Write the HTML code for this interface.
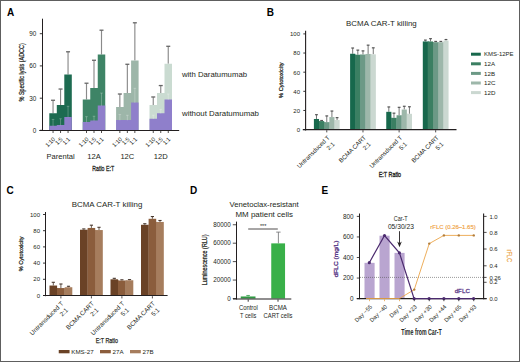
<!DOCTYPE html>
<html><head><meta charset="utf-8"><style>
html,body{margin:0;padding:0;background:#fff;}
body{width:520px;height:362px;overflow:hidden;}
svg{display:block;font-family:"Liberation Sans", sans-serif;}
</style></head><body>
<svg width="520" height="362" viewBox="0 0 520 362">
<rect x="0" y="0" width="520" height="362" fill="#fff"/>
<text x="6.90" y="15.70" font-size="10" fill="#000" text-anchor="start" font-weight="bold" >A</text>
<line x1="53.05" y1="100.26" x2="53.05" y2="113.28" stroke="#8a8a8a" stroke-width="1.15" />
<line x1="51.05" y1="100.26" x2="55.05" y2="100.26" stroke="#666" stroke-width="1.3" />
<line x1="60.55" y1="89.04" x2="60.55" y2="105.02" stroke="#8a8a8a" stroke-width="1.15" />
<line x1="58.55" y1="89.04" x2="62.55" y2="89.04" stroke="#666" stroke-width="1.3" />
<line x1="68.05" y1="51.79" x2="68.05" y2="74.55" stroke="#8a8a8a" stroke-width="1.15" />
<line x1="66.05" y1="51.79" x2="70.05" y2="51.79" stroke="#666" stroke-width="1.3" />
<path d="M49.30,130.00 L49.30,113.28 L56.80,113.28 L56.80,105.02 L64.30,105.02 L64.30,74.55 L71.80,74.55 L71.80,130.00 Z" fill="#1d6b51"/>
<path d="M49.30,130.00 L49.30,125.77 L56.80,125.77 L56.80,125.03 L64.30,125.03 L64.30,116.98 L71.80,116.98 L71.80,130.00 Z" fill="#8f7fcb"/>
<line x1="53.05" y1="119.42" x2="53.05" y2="126.07" stroke="rgba(255,255,255,0.28)" stroke-width="0.9" />
<line x1="51.75" y1="119.42" x2="54.35" y2="119.42" stroke="rgba(255,255,255,0.28)" stroke-width="0.9" />
<line x1="60.55" y1="118.78" x2="60.55" y2="125.33" stroke="rgba(255,255,255,0.28)" stroke-width="0.9" />
<line x1="59.25" y1="118.78" x2="61.85" y2="118.78" stroke="rgba(255,255,255,0.28)" stroke-width="0.9" />
<line x1="68.05" y1="106.29" x2="68.05" y2="117.28" stroke="rgba(255,255,255,0.28)" stroke-width="0.9" />
<line x1="66.75" y1="106.29" x2="69.35" y2="106.29" stroke="rgba(255,255,255,0.28)" stroke-width="0.9" />
<line x1="53.05" y1="131.00" x2="53.05" y2="133.00" stroke="#231f20" stroke-width="0.8" />
<text transform="translate(55.65,139.60) rotate(-45)" x="0" y="0" font-size="5.8" fill="#231f20" text-anchor="end" >1:10</text>
<line x1="60.55" y1="131.00" x2="60.55" y2="133.00" stroke="#231f20" stroke-width="0.8" />
<text transform="translate(63.15,139.60) rotate(-45)" x="0" y="0" font-size="5.8" fill="#231f20" text-anchor="end" >1:5</text>
<line x1="68.05" y1="131.00" x2="68.05" y2="133.00" stroke="#231f20" stroke-width="0.8" />
<text transform="translate(70.65,139.60) rotate(-45)" x="0" y="0" font-size="5.8" fill="#231f20" text-anchor="end" >1:1</text>
<text x="60.55" y="158.80" font-size="7.9" fill="#231f20" text-anchor="middle" textLength="28.3" lengthAdjust="spacingAndGlyphs" >Parental</text>
<line x1="86.50" y1="83.22" x2="86.50" y2="99.52" stroke="#8a8a8a" stroke-width="1.15" />
<line x1="84.50" y1="83.22" x2="88.50" y2="83.22" stroke="#666" stroke-width="1.3" />
<line x1="94.00" y1="60.26" x2="94.00" y2="87.99" stroke="#8a8a8a" stroke-width="1.15" />
<line x1="92.00" y1="60.26" x2="96.00" y2="60.26" stroke="#666" stroke-width="1.3" />
<line x1="101.50" y1="30.20" x2="101.50" y2="54.54" stroke="#8a8a8a" stroke-width="1.15" />
<line x1="99.50" y1="30.20" x2="103.50" y2="30.20" stroke="#666" stroke-width="1.3" />
<path d="M82.75,130.00 L82.75,99.52 L90.25,99.52 L90.25,87.99 L97.75,87.99 L97.75,54.54 L105.25,54.54 L105.25,130.00 Z" fill="#3e8466"/>
<path d="M82.75,130.00 L82.75,121.96 L90.25,121.96 L90.25,120.48 L97.75,120.48 L97.75,105.45 L105.25,105.45 L105.25,130.00 Z" fill="#8f7fcb"/>
<line x1="86.50" y1="116.67" x2="86.50" y2="122.26" stroke="rgba(255,255,255,0.28)" stroke-width="0.9" />
<line x1="85.20" y1="116.67" x2="87.80" y2="116.67" stroke="rgba(255,255,255,0.28)" stroke-width="0.9" />
<line x1="94.00" y1="116.24" x2="94.00" y2="120.78" stroke="rgba(255,255,255,0.28)" stroke-width="0.9" />
<line x1="92.70" y1="116.24" x2="95.30" y2="116.24" stroke="rgba(255,255,255,0.28)" stroke-width="0.9" />
<line x1="101.50" y1="93.07" x2="101.50" y2="105.75" stroke="rgba(255,255,255,0.28)" stroke-width="0.9" />
<line x1="100.20" y1="93.07" x2="102.80" y2="93.07" stroke="rgba(255,255,255,0.28)" stroke-width="0.9" />
<line x1="86.50" y1="131.00" x2="86.50" y2="133.00" stroke="#231f20" stroke-width="0.8" />
<text transform="translate(89.10,139.60) rotate(-45)" x="0" y="0" font-size="5.8" fill="#231f20" text-anchor="end" >1:10</text>
<line x1="94.00" y1="131.00" x2="94.00" y2="133.00" stroke="#231f20" stroke-width="0.8" />
<text transform="translate(96.60,139.60) rotate(-45)" x="0" y="0" font-size="5.8" fill="#231f20" text-anchor="end" >1:5</text>
<line x1="101.50" y1="131.00" x2="101.50" y2="133.00" stroke="#231f20" stroke-width="0.8" />
<text transform="translate(104.10,139.60) rotate(-45)" x="0" y="0" font-size="5.8" fill="#231f20" text-anchor="end" >1:1</text>
<text x="94.00" y="158.80" font-size="7.9" fill="#231f20" text-anchor="middle" textLength="13.5" lengthAdjust="spacingAndGlyphs" >12A</text>
<line x1="119.85" y1="94.02" x2="119.85" y2="107.03" stroke="#8a8a8a" stroke-width="1.15" />
<line x1="117.85" y1="94.02" x2="121.85" y2="94.02" stroke="#666" stroke-width="1.3" />
<line x1="127.35" y1="64.28" x2="127.35" y2="92.96" stroke="#8a8a8a" stroke-width="1.15" />
<line x1="125.35" y1="64.28" x2="129.35" y2="64.28" stroke="#666" stroke-width="1.3" />
<line x1="134.85" y1="22.79" x2="134.85" y2="60.47" stroke="#8a8a8a" stroke-width="1.15" />
<line x1="132.85" y1="22.79" x2="136.85" y2="22.79" stroke="#666" stroke-width="1.3" />
<path d="M116.10,130.00 L116.10,107.03 L123.60,107.03 L123.60,92.96 L131.10,92.96 L131.10,60.47 L138.60,60.47 L138.60,130.00 Z" fill="#9db6a9"/>
<path d="M116.10,130.00 L116.10,120.05 L123.60,120.05 L123.60,120.05 L131.10,120.05 L131.10,102.48 L138.60,102.48 L138.60,130.00 Z" fill="#8f7fcb"/>
<line x1="119.85" y1="114.55" x2="119.85" y2="120.35" stroke="rgba(255,255,255,0.28)" stroke-width="0.9" />
<line x1="118.55" y1="114.55" x2="121.15" y2="114.55" stroke="rgba(255,255,255,0.28)" stroke-width="0.9" />
<line x1="127.35" y1="115.29" x2="127.35" y2="120.35" stroke="rgba(255,255,255,0.28)" stroke-width="0.9" />
<line x1="126.05" y1="115.29" x2="128.65" y2="115.29" stroke="rgba(255,255,255,0.28)" stroke-width="0.9" />
<line x1="134.85" y1="88.30" x2="134.85" y2="102.78" stroke="rgba(255,255,255,0.28)" stroke-width="0.9" />
<line x1="133.55" y1="88.30" x2="136.15" y2="88.30" stroke="rgba(255,255,255,0.28)" stroke-width="0.9" />
<line x1="119.85" y1="131.00" x2="119.85" y2="133.00" stroke="#231f20" stroke-width="0.8" />
<text transform="translate(122.45,139.60) rotate(-45)" x="0" y="0" font-size="5.8" fill="#231f20" text-anchor="end" >1:10</text>
<line x1="127.35" y1="131.00" x2="127.35" y2="133.00" stroke="#231f20" stroke-width="0.8" />
<text transform="translate(129.95,139.60) rotate(-45)" x="0" y="0" font-size="5.8" fill="#231f20" text-anchor="end" >1:5</text>
<line x1="134.85" y1="131.00" x2="134.85" y2="133.00" stroke="#231f20" stroke-width="0.8" />
<text transform="translate(137.45,139.60) rotate(-45)" x="0" y="0" font-size="5.8" fill="#231f20" text-anchor="end" >1:1</text>
<text x="127.35" y="158.80" font-size="7.9" fill="#231f20" text-anchor="middle" textLength="13.9" lengthAdjust="spacingAndGlyphs" >12C</text>
<line x1="153.25" y1="96.98" x2="153.25" y2="105.02" stroke="#8a8a8a" stroke-width="1.15" />
<line x1="151.25" y1="96.98" x2="155.25" y2="96.98" stroke="#666" stroke-width="1.3" />
<line x1="160.75" y1="85.55" x2="160.75" y2="92.96" stroke="#8a8a8a" stroke-width="1.15" />
<line x1="158.75" y1="85.55" x2="162.75" y2="85.55" stroke="#666" stroke-width="1.3" />
<line x1="168.25" y1="46.29" x2="168.25" y2="63.75" stroke="#8a8a8a" stroke-width="1.15" />
<line x1="166.25" y1="46.29" x2="170.25" y2="46.29" stroke="#666" stroke-width="1.3" />
<path d="M149.50,130.00 L149.50,105.02 L157.00,105.02 L157.00,92.96 L164.50,92.96 L164.50,63.75 L172.00,63.75 L172.00,130.00 Z" fill="#cadbd1"/>
<path d="M149.50,130.00 L149.50,118.78 L157.00,118.78 L157.00,113.28 L164.50,113.28 L164.50,99.52 L172.00,99.52 L172.00,130.00 Z" fill="#8f7fcb"/>
<line x1="153.25" y1="115.18" x2="153.25" y2="119.08" stroke="rgba(255,255,255,0.28)" stroke-width="0.9" />
<line x1="151.95" y1="115.18" x2="154.55" y2="115.18" stroke="rgba(255,255,255,0.28)" stroke-width="0.9" />
<line x1="160.75" y1="109.36" x2="160.75" y2="113.58" stroke="rgba(255,255,255,0.28)" stroke-width="0.9" />
<line x1="159.45" y1="109.36" x2="162.05" y2="109.36" stroke="rgba(255,255,255,0.28)" stroke-width="0.9" />
<line x1="168.25" y1="94.02" x2="168.25" y2="99.82" stroke="rgba(255,255,255,0.28)" stroke-width="0.9" />
<line x1="166.95" y1="94.02" x2="169.55" y2="94.02" stroke="rgba(255,255,255,0.28)" stroke-width="0.9" />
<line x1="153.25" y1="131.00" x2="153.25" y2="133.00" stroke="#231f20" stroke-width="0.8" />
<text transform="translate(155.85,139.60) rotate(-45)" x="0" y="0" font-size="5.8" fill="#231f20" text-anchor="end" >1:10</text>
<line x1="160.75" y1="131.00" x2="160.75" y2="133.00" stroke="#231f20" stroke-width="0.8" />
<text transform="translate(163.35,139.60) rotate(-45)" x="0" y="0" font-size="5.8" fill="#231f20" text-anchor="end" >1:5</text>
<line x1="168.25" y1="131.00" x2="168.25" y2="133.00" stroke="#231f20" stroke-width="0.8" />
<text transform="translate(170.85,139.60) rotate(-45)" x="0" y="0" font-size="5.8" fill="#231f20" text-anchor="end" >1:1</text>
<text x="160.75" y="158.80" font-size="7.9" fill="#231f20" text-anchor="middle" textLength="13.9" lengthAdjust="spacingAndGlyphs" >12D</text>
<line x1="42.50" y1="18.70" x2="42.50" y2="131.00" stroke="#231f20" stroke-width="1" />
<line x1="39.30" y1="130.50" x2="179.20" y2="130.50" stroke="#231f20" stroke-width="1" />
<line x1="39.80" y1="130.30" x2="42.50" y2="130.30" stroke="#231f20" stroke-width="0.9" />
<text x="36.40" y="132.60" font-size="6.4" fill="#231f20" text-anchor="end" >0</text>
<line x1="39.80" y1="98.20" x2="42.50" y2="98.20" stroke="#231f20" stroke-width="0.9" />
<text x="36.40" y="100.50" font-size="6.4" fill="#231f20" text-anchor="end" >30</text>
<line x1="39.80" y1="65.90" x2="42.50" y2="65.90" stroke="#231f20" stroke-width="0.9" />
<text x="36.40" y="68.20" font-size="6.4" fill="#231f20" text-anchor="end" >60</text>
<line x1="39.80" y1="33.70" x2="42.50" y2="33.70" stroke="#231f20" stroke-width="0.9" />
<text x="36.40" y="36.00" font-size="6.4" fill="#231f20" text-anchor="end" >90</text>
<text transform="translate(24.30,72.30) rotate(-90)" x="0" y="0" font-size="7.0" fill="#231f20" text-anchor="middle" textLength="58.2" lengthAdjust="spacingAndGlyphs" stroke="#231f20" stroke-width="0.25">% Specific lysis (ADCC)</text>
<text x="103.20" y="170.80" font-size="8.1" fill="#231f20" text-anchor="middle" textLength="21.8" lengthAdjust="spacingAndGlyphs" stroke="#231f20" stroke-width="0.3">Ratio E:T</text>
<text x="182.00" y="77.40" font-size="8.0" fill="#231f20" text-anchor="start" textLength="65" lengthAdjust="spacingAndGlyphs" >with Daratumumab</text>
<text x="182.00" y="115.50" font-size="8.0" fill="#231f20" text-anchor="start" textLength="77" lengthAdjust="spacingAndGlyphs" >without Daratumumab</text>
<text x="266.70" y="15.70" font-size="10" fill="#000" text-anchor="start" font-weight="bold" >B</text>
<text x="381.40" y="25.90" font-size="7.2" fill="#231f20" text-anchor="middle" textLength="70.6" lengthAdjust="spacingAndGlyphs" >BCMA CAR-T killing</text>
<line x1="316.47" y1="114.68" x2="316.47" y2="118.98" stroke="#777" stroke-width="1.0" />
<line x1="315.07" y1="114.68" x2="317.87" y2="114.68" stroke="#555" stroke-width="1.2" />
<line x1="321.62" y1="120.51" x2="321.62" y2="121.08" stroke="#777" stroke-width="1.0" />
<line x1="320.22" y1="120.51" x2="323.02" y2="120.51" stroke="#555" stroke-width="1.2" />
<line x1="326.77" y1="115.93" x2="326.77" y2="122.13" stroke="#777" stroke-width="1.0" />
<line x1="325.38" y1="115.93" x2="328.17" y2="115.93" stroke="#555" stroke-width="1.2" />
<line x1="331.92" y1="111.05" x2="331.92" y2="117.07" stroke="#777" stroke-width="1.0" />
<line x1="330.52" y1="111.05" x2="333.32" y2="111.05" stroke="#555" stroke-width="1.2" />
<line x1="337.07" y1="117.64" x2="337.07" y2="120.03" stroke="#777" stroke-width="1.0" />
<line x1="335.68" y1="117.64" x2="338.47" y2="117.64" stroke="#555" stroke-width="1.2" />
<rect x="313.90" y="118.98" width="5.15" height="10.22" fill="#17684c" />
<rect x="319.04" y="121.08" width="0.80" height="8.12" fill="#17684c" />
<rect x="319.05" y="121.08" width="5.15" height="8.12" fill="#3b7f62" />
<rect x="324.19" y="122.13" width="0.80" height="7.07" fill="#3b7f62" />
<rect x="324.20" y="122.13" width="5.15" height="7.07" fill="#6c9986" />
<rect x="329.34" y="122.13" width="0.80" height="7.07" fill="#6c9986" />
<rect x="329.35" y="117.07" width="5.15" height="12.13" fill="#9db7aa" />
<rect x="334.49" y="120.03" width="0.80" height="9.17" fill="#9db7aa" />
<rect x="334.50" y="120.03" width="5.15" height="9.17" fill="#cbd8d1" />
<line x1="352.68" y1="48.02" x2="352.68" y2="53.75" stroke="#777" stroke-width="1.0" />
<line x1="351.28" y1="48.02" x2="354.07" y2="48.02" stroke="#555" stroke-width="1.2" />
<line x1="357.82" y1="50.13" x2="357.82" y2="54.71" stroke="#777" stroke-width="1.0" />
<line x1="356.43" y1="50.13" x2="359.22" y2="50.13" stroke="#555" stroke-width="1.2" />
<line x1="362.98" y1="50.89" x2="362.98" y2="54.52" stroke="#777" stroke-width="1.0" />
<line x1="361.58" y1="50.89" x2="364.38" y2="50.89" stroke="#555" stroke-width="1.2" />
<line x1="368.12" y1="45.16" x2="368.12" y2="53.95" stroke="#777" stroke-width="1.0" />
<line x1="366.73" y1="45.16" x2="369.52" y2="45.16" stroke="#555" stroke-width="1.2" />
<line x1="373.28" y1="47.83" x2="373.28" y2="54.33" stroke="#777" stroke-width="1.0" />
<line x1="371.88" y1="47.83" x2="374.68" y2="47.83" stroke="#555" stroke-width="1.2" />
<rect x="350.10" y="53.75" width="5.15" height="75.44" fill="#17684c" />
<rect x="355.24" y="54.71" width="0.80" height="74.49" fill="#17684c" />
<rect x="355.25" y="54.71" width="5.15" height="74.49" fill="#3b7f62" />
<rect x="360.39" y="54.71" width="0.80" height="74.49" fill="#3b7f62" />
<rect x="360.40" y="54.52" width="5.15" height="74.68" fill="#6c9986" />
<rect x="365.54" y="54.52" width="0.80" height="74.68" fill="#6c9986" />
<rect x="365.55" y="53.95" width="5.15" height="75.25" fill="#9db7aa" />
<rect x="370.69" y="54.33" width="0.80" height="74.87" fill="#9db7aa" />
<rect x="370.70" y="54.33" width="5.15" height="74.87" fill="#cbd8d1" />
<line x1="388.82" y1="106.95" x2="388.82" y2="111.82" stroke="#777" stroke-width="1.0" />
<line x1="387.43" y1="106.95" x2="390.22" y2="106.95" stroke="#555" stroke-width="1.2" />
<line x1="393.97" y1="113.16" x2="393.97" y2="117.84" stroke="#777" stroke-width="1.0" />
<line x1="392.57" y1="113.16" x2="395.37" y2="113.16" stroke="#555" stroke-width="1.2" />
<line x1="399.12" y1="107.33" x2="399.12" y2="115.26" stroke="#777" stroke-width="1.0" />
<line x1="397.73" y1="107.33" x2="400.52" y2="107.33" stroke="#555" stroke-width="1.2" />
<line x1="404.27" y1="106.28" x2="404.27" y2="109.53" stroke="#777" stroke-width="1.0" />
<line x1="402.88" y1="106.28" x2="405.67" y2="106.28" stroke="#555" stroke-width="1.2" />
<line x1="409.43" y1="106.76" x2="409.43" y2="113.82" stroke="#777" stroke-width="1.0" />
<line x1="408.03" y1="106.76" x2="410.82" y2="106.76" stroke="#555" stroke-width="1.2" />
<rect x="386.25" y="111.82" width="5.15" height="17.38" fill="#17684c" />
<rect x="391.39" y="117.84" width="0.80" height="11.36" fill="#17684c" />
<rect x="391.40" y="117.84" width="5.15" height="11.36" fill="#3b7f62" />
<rect x="396.54" y="117.84" width="0.80" height="11.36" fill="#3b7f62" />
<rect x="396.55" y="115.26" width="5.15" height="13.94" fill="#6c9986" />
<rect x="401.69" y="115.26" width="0.80" height="13.94" fill="#6c9986" />
<rect x="401.70" y="109.53" width="5.15" height="19.67" fill="#9db7aa" />
<rect x="406.84" y="113.82" width="0.80" height="15.38" fill="#9db7aa" />
<rect x="406.85" y="113.82" width="5.15" height="15.38" fill="#cbd8d1" />
<line x1="425.38" y1="40.10" x2="425.38" y2="41.44" stroke="#777" stroke-width="1.0" />
<line x1="423.98" y1="40.10" x2="426.77" y2="40.10" stroke="#555" stroke-width="1.2" />
<line x1="430.52" y1="38.67" x2="430.52" y2="41.44" stroke="#777" stroke-width="1.0" />
<line x1="429.12" y1="38.67" x2="431.92" y2="38.67" stroke="#555" stroke-width="1.2" />
<line x1="435.68" y1="41.44" x2="435.68" y2="42.20" stroke="#777" stroke-width="1.0" />
<line x1="434.28" y1="41.44" x2="437.07" y2="41.44" stroke="#555" stroke-width="1.2" />
<line x1="440.82" y1="41.44" x2="440.82" y2="42.20" stroke="#777" stroke-width="1.0" />
<line x1="439.43" y1="41.44" x2="442.22" y2="41.44" stroke="#555" stroke-width="1.2" />
<line x1="445.98" y1="39.53" x2="445.98" y2="40.58" stroke="#777" stroke-width="1.0" />
<line x1="444.58" y1="39.53" x2="447.38" y2="39.53" stroke="#555" stroke-width="1.2" />
<rect x="422.80" y="41.44" width="5.15" height="87.76" fill="#17684c" />
<rect x="427.94" y="41.44" width="0.80" height="87.76" fill="#17684c" />
<rect x="427.95" y="41.44" width="5.15" height="87.76" fill="#3b7f62" />
<rect x="433.09" y="42.20" width="0.80" height="87.00" fill="#3b7f62" />
<rect x="433.10" y="42.20" width="5.15" height="87.00" fill="#6c9986" />
<rect x="438.24" y="42.20" width="0.80" height="87.00" fill="#6c9986" />
<rect x="438.25" y="42.20" width="5.15" height="87.00" fill="#9db7aa" />
<rect x="443.39" y="42.20" width="0.80" height="87.00" fill="#9db7aa" />
<rect x="443.40" y="40.58" width="5.15" height="88.62" fill="#cbd8d1" />
<line x1="305.60" y1="30.80" x2="305.60" y2="130.40" stroke="#231f20" stroke-width="1.1" />
<line x1="302.80" y1="129.70" x2="456.50" y2="129.70" stroke="#231f20" stroke-width="1.2" />
<line x1="303.30" y1="129.60" x2="305.60" y2="129.60" stroke="#231f20" stroke-width="0.9" />
<text x="300.00" y="132.00" font-size="6.0" fill="#231f20" text-anchor="end" >0</text>
<line x1="303.30" y1="110.46" x2="305.60" y2="110.46" stroke="#231f20" stroke-width="0.9" />
<text x="300.00" y="112.86" font-size="6.0" fill="#231f20" text-anchor="end" >20</text>
<line x1="303.30" y1="91.32" x2="305.60" y2="91.32" stroke="#231f20" stroke-width="0.9" />
<text x="300.00" y="93.72" font-size="6.0" fill="#231f20" text-anchor="end" >40</text>
<line x1="303.30" y1="72.18" x2="305.60" y2="72.18" stroke="#231f20" stroke-width="0.9" />
<text x="300.00" y="74.58" font-size="6.0" fill="#231f20" text-anchor="end" >60</text>
<line x1="303.30" y1="53.04" x2="305.60" y2="53.04" stroke="#231f20" stroke-width="0.9" />
<text x="300.00" y="55.44" font-size="6.0" fill="#231f20" text-anchor="end" >80</text>
<line x1="303.30" y1="33.90" x2="305.60" y2="33.90" stroke="#231f20" stroke-width="0.9" />
<text x="300.00" y="36.30" font-size="6.0" fill="#231f20" text-anchor="end" >100</text>
<text transform="translate(282.50,80.20) rotate(-90)" x="0" y="0" font-size="5.8" fill="#231f20" text-anchor="middle" textLength="35.5" lengthAdjust="spacingAndGlyphs" stroke="#231f20" stroke-width="0.25">% Cytotoxicity</text>
<line x1="326.77" y1="130.20" x2="326.77" y2="132.40" stroke="#231f20" stroke-width="0.8" />
<text transform="translate(330.17,138.00) rotate(-45)" x="0" y="0" font-size="6.1" fill="#231f20" text-anchor="end" >Untransduced T</text>
<text transform="translate(335.07,144.60) rotate(-45)" x="0" y="0" font-size="6.1" fill="#231f20" text-anchor="end" >2:1</text>
<line x1="362.98" y1="130.20" x2="362.98" y2="132.40" stroke="#231f20" stroke-width="0.8" />
<text transform="translate(366.38,138.00) rotate(-45)" x="0" y="0" font-size="6.1" fill="#231f20" text-anchor="end" >BCMA CART</text>
<text transform="translate(371.27,144.60) rotate(-45)" x="0" y="0" font-size="6.1" fill="#231f20" text-anchor="end" >2:1</text>
<line x1="399.12" y1="130.20" x2="399.12" y2="132.40" stroke="#231f20" stroke-width="0.8" />
<text transform="translate(402.52,138.00) rotate(-45)" x="0" y="0" font-size="6.1" fill="#231f20" text-anchor="end" >Untransduced T</text>
<text transform="translate(407.42,144.60) rotate(-45)" x="0" y="0" font-size="6.1" fill="#231f20" text-anchor="end" >5:1</text>
<line x1="435.68" y1="130.20" x2="435.68" y2="132.40" stroke="#231f20" stroke-width="0.8" />
<text transform="translate(439.07,138.00) rotate(-45)" x="0" y="0" font-size="6.1" fill="#231f20" text-anchor="end" >BCMA CART</text>
<text transform="translate(443.97,144.60) rotate(-45)" x="0" y="0" font-size="6.1" fill="#231f20" text-anchor="end" >5:1</text>
<text x="389.90" y="177.30" font-size="7.9" fill="#231f20" text-anchor="middle" textLength="22.4" lengthAdjust="spacingAndGlyphs" stroke="#231f20" stroke-width="0.35">E:T Ratio</text>
<rect x="471.00" y="52.70" width="9.80" height="3.00" fill="#17684c" />
<text x="484.00" y="56.40" font-size="6.2" fill="#231f20" text-anchor="start" textLength="29.6" lengthAdjust="spacingAndGlyphs" >KMS-12PE</text>
<rect x="471.00" y="62.30" width="9.80" height="3.00" fill="#3b7f62" />
<text x="484.00" y="66.00" font-size="6.2" fill="#231f20" text-anchor="start" >12A</text>
<rect x="471.00" y="71.90" width="9.80" height="3.00" fill="#6c9986" />
<text x="484.00" y="75.60" font-size="6.2" fill="#231f20" text-anchor="start" >12B</text>
<rect x="471.00" y="81.50" width="9.80" height="3.00" fill="#9db7aa" />
<text x="484.00" y="85.20" font-size="6.2" fill="#231f20" text-anchor="start" >12C</text>
<rect x="471.00" y="91.10" width="9.80" height="3.00" fill="#cbd8d1" />
<text x="484.00" y="94.80" font-size="6.2" fill="#231f20" text-anchor="start" >12D</text>
<text x="6.50" y="193.90" font-size="10" fill="#000" text-anchor="start" font-weight="bold" >C</text>
<text x="107.00" y="206.60" font-size="7.2" fill="#231f20" text-anchor="middle" textLength="70.6" lengthAdjust="spacingAndGlyphs" >BCMA CAR-T killing</text>
<line x1="53.30" y1="282.30" x2="53.30" y2="285.54" stroke="#5a4a3f" stroke-width="0.9" />
<line x1="51.70" y1="282.30" x2="54.90" y2="282.30" stroke="#4a3a30" stroke-width="1.1" />
<line x1="60.90" y1="284.00" x2="60.90" y2="288.05" stroke="#5a4a3f" stroke-width="0.9" />
<line x1="59.30" y1="284.00" x2="62.50" y2="284.00" stroke="#4a3a30" stroke-width="1.1" />
<line x1="68.50" y1="286.27" x2="68.50" y2="287.24" stroke="#5a4a3f" stroke-width="0.9" />
<line x1="66.90" y1="286.27" x2="70.10" y2="286.27" stroke="#4a3a30" stroke-width="1.1" />
<rect x="49.50" y="285.54" width="7.60" height="9.66" fill="#6a4226" />
<rect x="57.09" y="288.05" width="0.80" height="7.15" fill="#6a4226" />
<rect x="57.10" y="288.05" width="7.60" height="7.15" fill="#8b5d3c" />
<rect x="64.69" y="288.05" width="0.80" height="7.15" fill="#8b5d3c" />
<rect x="64.70" y="287.24" width="7.60" height="7.96" fill="#a67d5d" />
<line x1="83.80" y1="228.92" x2="83.80" y2="229.73" stroke="#5a4a3f" stroke-width="0.9" />
<line x1="82.20" y1="228.92" x2="85.40" y2="228.92" stroke="#4a3a30" stroke-width="1.1" />
<line x1="91.40" y1="225.19" x2="91.40" y2="227.95" stroke="#5a4a3f" stroke-width="0.9" />
<line x1="89.80" y1="225.19" x2="93.00" y2="225.19" stroke="#4a3a30" stroke-width="1.1" />
<line x1="99.00" y1="227.30" x2="99.00" y2="230.05" stroke="#5a4a3f" stroke-width="0.9" />
<line x1="97.40" y1="227.30" x2="100.60" y2="227.30" stroke="#4a3a30" stroke-width="1.1" />
<rect x="80.00" y="229.73" width="7.60" height="65.47" fill="#6a4226" />
<rect x="87.59" y="229.73" width="0.80" height="65.47" fill="#6a4226" />
<rect x="87.60" y="227.95" width="7.60" height="67.25" fill="#8b5d3c" />
<rect x="95.19" y="230.05" width="0.80" height="65.15" fill="#8b5d3c" />
<rect x="95.20" y="230.05" width="7.60" height="65.15" fill="#a67d5d" />
<line x1="114.30" y1="278.33" x2="114.30" y2="279.30" stroke="#5a4a3f" stroke-width="0.9" />
<line x1="112.70" y1="278.33" x2="115.90" y2="278.33" stroke="#4a3a30" stroke-width="1.1" />
<line x1="121.90" y1="279.79" x2="121.90" y2="280.51" stroke="#5a4a3f" stroke-width="0.9" />
<line x1="120.30" y1="279.79" x2="123.50" y2="279.79" stroke="#4a3a30" stroke-width="1.1" />
<line x1="129.50" y1="279.62" x2="129.50" y2="280.27" stroke="#5a4a3f" stroke-width="0.9" />
<line x1="127.90" y1="279.62" x2="131.10" y2="279.62" stroke="#4a3a30" stroke-width="1.1" />
<rect x="110.50" y="279.30" width="7.60" height="15.90" fill="#6a4226" />
<rect x="118.09" y="280.51" width="0.80" height="14.69" fill="#6a4226" />
<rect x="118.10" y="280.51" width="7.60" height="14.69" fill="#8b5d3c" />
<rect x="125.69" y="280.51" width="0.80" height="14.69" fill="#8b5d3c" />
<rect x="125.70" y="280.27" width="7.60" height="14.93" fill="#a67d5d" />
<line x1="144.80" y1="223.73" x2="144.80" y2="224.79" stroke="#5a4a3f" stroke-width="0.9" />
<line x1="143.20" y1="223.73" x2="146.40" y2="223.73" stroke="#4a3a30" stroke-width="1.1" />
<line x1="152.40" y1="216.52" x2="152.40" y2="218.79" stroke="#5a4a3f" stroke-width="0.9" />
<line x1="150.80" y1="216.52" x2="154.00" y2="216.52" stroke="#4a3a30" stroke-width="1.1" />
<line x1="160.00" y1="220.49" x2="160.00" y2="221.95" stroke="#5a4a3f" stroke-width="0.9" />
<line x1="158.40" y1="220.49" x2="161.60" y2="220.49" stroke="#4a3a30" stroke-width="1.1" />
<rect x="141.00" y="224.79" width="7.60" height="70.41" fill="#6a4226" />
<rect x="148.59" y="224.79" width="0.80" height="70.41" fill="#6a4226" />
<rect x="148.60" y="218.79" width="7.60" height="76.41" fill="#8b5d3c" />
<rect x="156.19" y="221.95" width="0.80" height="73.25" fill="#8b5d3c" />
<rect x="156.20" y="221.95" width="7.60" height="73.25" fill="#a67d5d" />
<line x1="45.50" y1="212.00" x2="45.50" y2="296.20" stroke="#231f20" stroke-width="1" />
<line x1="43.00" y1="295.50" x2="167.60" y2="295.50" stroke="#231f20" stroke-width="1.1" />
<line x1="43.00" y1="295.50" x2="45.50" y2="295.50" stroke="#231f20" stroke-width="0.9" />
<text x="40.00" y="297.60" font-size="6.0" fill="#231f20" text-anchor="end" >0</text>
<line x1="43.00" y1="279.30" x2="45.50" y2="279.30" stroke="#231f20" stroke-width="0.9" />
<text x="40.00" y="281.40" font-size="6.0" fill="#231f20" text-anchor="end" >20</text>
<line x1="43.00" y1="263.10" x2="45.50" y2="263.10" stroke="#231f20" stroke-width="0.9" />
<text x="40.00" y="265.20" font-size="6.0" fill="#231f20" text-anchor="end" >40</text>
<line x1="43.00" y1="246.90" x2="45.50" y2="246.90" stroke="#231f20" stroke-width="0.9" />
<text x="40.00" y="249.00" font-size="6.0" fill="#231f20" text-anchor="end" >60</text>
<line x1="43.00" y1="230.70" x2="45.50" y2="230.70" stroke="#231f20" stroke-width="0.9" />
<text x="40.00" y="232.80" font-size="6.0" fill="#231f20" text-anchor="end" >80</text>
<line x1="43.00" y1="214.50" x2="45.50" y2="214.50" stroke="#231f20" stroke-width="0.9" />
<text x="40.00" y="216.60" font-size="6.0" fill="#231f20" text-anchor="end" >100</text>
<text transform="translate(22.80,253.90) rotate(-90)" x="0" y="0" font-size="5.8" fill="#231f20" text-anchor="middle" textLength="34.8" lengthAdjust="spacingAndGlyphs" stroke="#231f20" stroke-width="0.25">% Cytotoxicity</text>
<line x1="60.90" y1="296.20" x2="60.90" y2="298.40" stroke="#231f20" stroke-width="0.8" />
<text transform="translate(63.90,304.10) rotate(-45)" x="0" y="0" font-size="6.3" fill="#231f20" text-anchor="end" >Untransduced T</text>
<text transform="translate(68.50,310.60) rotate(-45)" x="0" y="0" font-size="6.3" fill="#231f20" text-anchor="end" >2:1</text>
<line x1="91.40" y1="296.20" x2="91.40" y2="298.40" stroke="#231f20" stroke-width="0.8" />
<text transform="translate(94.40,304.10) rotate(-45)" x="0" y="0" font-size="6.3" fill="#231f20" text-anchor="end" >BCMA CART</text>
<text transform="translate(99.00,310.60) rotate(-45)" x="0" y="0" font-size="6.3" fill="#231f20" text-anchor="end" >2:1</text>
<line x1="121.90" y1="296.20" x2="121.90" y2="298.40" stroke="#231f20" stroke-width="0.8" />
<text transform="translate(124.90,304.10) rotate(-45)" x="0" y="0" font-size="6.3" fill="#231f20" text-anchor="end" >Untransduced T</text>
<text transform="translate(129.50,310.60) rotate(-45)" x="0" y="0" font-size="6.3" fill="#231f20" text-anchor="end" >5:1</text>
<line x1="152.40" y1="296.20" x2="152.40" y2="298.40" stroke="#231f20" stroke-width="0.8" />
<text transform="translate(155.40,304.10) rotate(-45)" x="0" y="0" font-size="6.3" fill="#231f20" text-anchor="end" >BCMA CART</text>
<text transform="translate(160.00,310.60) rotate(-45)" x="0" y="0" font-size="6.3" fill="#231f20" text-anchor="end" >5:1</text>
<text x="106.80" y="343.40" font-size="7.4" fill="#231f20" text-anchor="middle" textLength="22.3" lengthAdjust="spacingAndGlyphs" stroke="#231f20" stroke-width="0.25">E:T Ratio</text>
<rect x="58.75" y="350.00" width="10.80" height="3.30" fill="#6a4226" />
<text x="71.25" y="354.40" font-size="6.2" fill="#231f20" text-anchor="start" >KMS-27</text>
<rect x="100.00" y="350.00" width="10.80" height="3.30" fill="#8b5d3c" />
<text x="112.50" y="354.40" font-size="6.2" fill="#231f20" text-anchor="start" >27A</text>
<rect x="130.00" y="350.00" width="10.80" height="3.30" fill="#a67d5d" />
<text x="142.50" y="354.40" font-size="6.2" fill="#231f20" text-anchor="start" >27B</text>
<text x="190.10" y="193.90" font-size="10" fill="#000" text-anchor="start" font-weight="bold" >D</text>
<text x="264.10" y="207.10" font-size="7.7" fill="#231f20" text-anchor="middle" textLength="69.2" lengthAdjust="spacingAndGlyphs" >Venetoclax-resistant</text>
<text x="264.20" y="216.60" font-size="7.7" fill="#231f20" text-anchor="middle" textLength="57.5" lengthAdjust="spacingAndGlyphs" >MM patient cells</text>
<line x1="248.10" y1="295.46" x2="248.10" y2="296.47" stroke="#2f9e45" stroke-width="0.8" />
<line x1="246.30" y1="295.46" x2="249.90" y2="295.46" stroke="#2f9e45" stroke-width="0.8" />
<rect x="240.75" y="296.47" width="14.75" height="2.03" fill="#2f9a42" />
<line x1="278.40" y1="232.12" x2="278.40" y2="243.37" stroke="#6d6e71" stroke-width="0.8" />
<line x1="276.20" y1="232.12" x2="280.60" y2="232.12" stroke="#6d6e71" stroke-width="0.8" />
<rect x="271.25" y="243.37" width="13.80" height="55.13" fill="#39b049" />
<line x1="236.50" y1="221.60" x2="236.50" y2="299.50" stroke="#231f20" stroke-width="1" />
<line x1="233.00" y1="299.00" x2="291.30" y2="299.00" stroke="#231f20" stroke-width="1.2" />
<line x1="232.80" y1="298.50" x2="236.50" y2="298.50" stroke="#231f20" stroke-width="0.8" />
<text x="230.70" y="300.70" font-size="6.3" fill="#231f20" text-anchor="end" >0</text>
<line x1="232.80" y1="280.06" x2="236.50" y2="280.06" stroke="#231f20" stroke-width="0.8" />
<text x="230.70" y="282.26" font-size="6.3" fill="#231f20" text-anchor="end" >20000</text>
<line x1="232.80" y1="261.62" x2="236.50" y2="261.62" stroke="#231f20" stroke-width="0.8" />
<text x="230.70" y="263.82" font-size="6.3" fill="#231f20" text-anchor="end" >40000</text>
<line x1="232.80" y1="243.19" x2="236.50" y2="243.19" stroke="#231f20" stroke-width="0.8" />
<text x="230.70" y="245.39" font-size="6.3" fill="#231f20" text-anchor="end" >60000</text>
<line x1="232.80" y1="224.75" x2="236.50" y2="224.75" stroke="#231f20" stroke-width="0.8" />
<text x="230.70" y="226.95" font-size="6.3" fill="#231f20" text-anchor="end" >80000</text>
<text transform="translate(207.00,259.90) rotate(-90)" x="0" y="0" font-size="7.0" fill="#231f20" text-anchor="middle" textLength="50.8" lengthAdjust="spacingAndGlyphs" stroke="#231f20" stroke-width="0.25">Luminescence (RLU)</text>
<line x1="248.20" y1="229.00" x2="277.80" y2="229.00" stroke="#231f20" stroke-width="0.8" />
<line x1="248.20" y1="299.50" x2="248.20" y2="301.70" stroke="#231f20" stroke-width="0.9" />
<line x1="278.00" y1="299.50" x2="278.00" y2="301.70" stroke="#231f20" stroke-width="0.9" />
<text x="263.20" y="228.00" font-size="5.6" fill="#231f20" text-anchor="middle" >***</text>
<text x="248.40" y="310.30" font-size="6.3" fill="#231f20" text-anchor="middle" textLength="19.0" lengthAdjust="spacingAndGlyphs" >Control</text>
<text x="248.20" y="317.80" font-size="6.3" fill="#231f20" text-anchor="middle" textLength="16.2" lengthAdjust="spacingAndGlyphs" >T cells</text>
<text x="278.00" y="310.30" font-size="6.3" fill="#231f20" text-anchor="middle" textLength="17.8" lengthAdjust="spacingAndGlyphs" >BCMA</text>
<text x="278.00" y="317.80" font-size="6.3" fill="#231f20" text-anchor="middle" textLength="28.8" lengthAdjust="spacingAndGlyphs" >CART cells</text>
<text x="321.40" y="193.90" font-size="10" fill="#000" text-anchor="start" font-weight="bold" >E</text>
<rect x="364.50" y="262.84" width="10.10" height="35.66" fill="#b9a5d0" />
<rect x="379.50" y="235.72" width="10.10" height="62.78" fill="#b9a5d0" />
<rect x="394.50" y="252.88" width="10.10" height="45.62" fill="#b9a5d0" />
<line x1="360.00" y1="277.40" x2="483.60" y2="277.40" stroke="#555" stroke-width="0.6" stroke-dasharray="1,1"/>
<line x1="359.50" y1="213.50" x2="359.50" y2="299.20" stroke="#231f20" stroke-width="1" />
<line x1="483.60" y1="213.50" x2="483.60" y2="299.20" stroke="#231f20" stroke-width="1.1" />
<line x1="356.80" y1="298.70" x2="486.60" y2="298.70" stroke="#231f20" stroke-width="1.2" />
<line x1="356.80" y1="298.60" x2="359.50" y2="298.60" stroke="#231f20" stroke-width="0.8" />
<text x="353.60" y="300.80" font-size="6.4" fill="#231f20" text-anchor="end" >0</text>
<line x1="356.80" y1="278.05" x2="359.50" y2="278.05" stroke="#231f20" stroke-width="0.8" />
<text x="353.60" y="280.25" font-size="6.4" fill="#231f20" text-anchor="end" >200</text>
<line x1="356.80" y1="257.50" x2="359.50" y2="257.50" stroke="#231f20" stroke-width="0.8" />
<text x="353.60" y="259.70" font-size="6.4" fill="#231f20" text-anchor="end" >400</text>
<line x1="356.80" y1="236.95" x2="359.50" y2="236.95" stroke="#231f20" stroke-width="0.8" />
<text x="353.60" y="239.15" font-size="6.4" fill="#231f20" text-anchor="end" >600</text>
<line x1="356.80" y1="216.40" x2="359.50" y2="216.40" stroke="#231f20" stroke-width="0.8" />
<text x="353.60" y="218.60" font-size="6.4" fill="#231f20" text-anchor="end" >800</text>
<line x1="483.60" y1="298.60" x2="486.60" y2="298.60" stroke="#231f20" stroke-width="0.8" />
<text x="489.40" y="300.70" font-size="5.9" fill="#231f20" text-anchor="start" >0.0</text>
<line x1="483.60" y1="282.30" x2="486.60" y2="282.30" stroke="#231f20" stroke-width="0.8" />
<text x="489.40" y="284.40" font-size="5.9" fill="#231f20" text-anchor="start" >0.2</text>
<line x1="483.60" y1="277.40" x2="486.60" y2="277.40" stroke="#231f20" stroke-width="0.8" />
<text x="489.40" y="279.50" font-size="5.9" fill="#231f20" text-anchor="start" >0.26</text>
<line x1="483.60" y1="265.80" x2="486.60" y2="265.80" stroke="#231f20" stroke-width="0.8" />
<text x="489.40" y="267.90" font-size="5.9" fill="#231f20" text-anchor="start" >0.4</text>
<line x1="483.60" y1="249.00" x2="486.60" y2="249.00" stroke="#231f20" stroke-width="0.8" />
<text x="489.40" y="251.10" font-size="5.9" fill="#231f20" text-anchor="start" >0.6</text>
<line x1="483.60" y1="232.40" x2="486.60" y2="232.40" stroke="#231f20" stroke-width="0.8" />
<text x="489.40" y="234.50" font-size="5.9" fill="#231f20" text-anchor="start" >0.8</text>
<line x1="483.60" y1="216.40" x2="486.60" y2="216.40" stroke="#231f20" stroke-width="0.8" />
<text x="489.40" y="218.50" font-size="5.9" fill="#231f20" text-anchor="start" >1.0</text>
<text transform="translate(337.90,258.90) rotate(-90)" x="0" y="0" font-size="6.0" fill="#5f3f8c" text-anchor="middle" textLength="36.8" lengthAdjust="spacingAndGlyphs" stroke="#5f3f8c" stroke-width="0.35">dFLC (mg/L)</text>
<text transform="translate(507.10,255.80) rotate(90)" x="0" y="0" font-size="7.2" fill="#eba54a" text-anchor="middle" textLength="12.6" lengthAdjust="spacingAndGlyphs" stroke="#eba54a" stroke-width="0.2">rFLC</text>
<polyline points="366,298.5 399.5,298.5 414.25,289.6 429.25,243.6 443.9,235.4 458.8,235.4 473.75,235.4" fill="none" stroke="#eba54a" stroke-width="0.9"/>
<circle cx="414.25" cy="289.6" r="1.2" fill="#b37d3a"/>
<circle cx="429.25" cy="243.6" r="1.2" fill="#b37d3a"/>
<circle cx="443.9" cy="235.4" r="1.2" fill="#b37d3a"/>
<circle cx="458.8" cy="235.4" r="1.2" fill="#b37d3a"/>
<circle cx="473.75" cy="235.4" r="1.2" fill="#b37d3a"/>
<polyline points="369.3,262.7 384.5,235.5 399.4,252.8 414.1,298.6 429.1,298.6 443.9,298.6 458.8,298.6 473.6,298.6" fill="none" stroke="#4b2a6e" stroke-width="1.2"/>
<circle cx="369.3" cy="262.7" r="1.6" fill="#4b2a6e"/>
<circle cx="384.5" cy="235.5" r="1.6" fill="#4b2a6e"/>
<circle cx="399.4" cy="252.8" r="1.6" fill="#4b2a6e"/>
<circle cx="414.1" cy="298.6" r="1.6" fill="#4b2a6e"/>
<circle cx="429.1" cy="298.6" r="1.6" fill="#4b2a6e"/>
<circle cx="443.9" cy="298.6" r="1.6" fill="#4b2a6e"/>
<circle cx="458.8" cy="298.6" r="1.6" fill="#4b2a6e"/>
<circle cx="473.6" cy="298.6" r="1.6" fill="#4b2a6e"/>
<line x1="399.50" y1="231.20" x2="399.50" y2="244.50" stroke="#231f20" stroke-width="0.9" />
<path d="M397.2,241.6 L399.5,247.3 L401.8,241.6 L399.5,243.2 Z" fill="#231f20"/>
<text x="400.70" y="221.30" font-size="6.6" fill="#231f20" text-anchor="middle" textLength="14.0" lengthAdjust="spacingAndGlyphs" >Car-T</text>
<text x="400.90" y="229.00" font-size="6.6" fill="#231f20" text-anchor="middle" textLength="26.0" lengthAdjust="spacingAndGlyphs" >05/30/23</text>
<text x="453.00" y="228.70" font-size="6.0" fill="#f0a445" text-anchor="middle" textLength="45.5" lengthAdjust="spacingAndGlyphs" stroke="#f0a445" stroke-width="0.15">rFLC (0.26–1.65)</text>
<text x="462.30" y="292.50" font-size="6.2" fill="#5f3f8c" text-anchor="middle" textLength="15.3" lengthAdjust="spacingAndGlyphs" stroke="#5f3f8c" stroke-width="0.3">dFLC</text>
<line x1="369.50" y1="299.20" x2="369.50" y2="301.20" stroke="#eba54a" stroke-width="0.8" />
<text transform="translate(372.50,307.20) rotate(-45)" x="0" y="0" font-size="5.8" fill="#231f20" text-anchor="end" >Day −55</text>
<line x1="384.50" y1="299.20" x2="384.50" y2="301.20" stroke="#eba54a" stroke-width="0.8" />
<text transform="translate(387.50,307.20) rotate(-45)" x="0" y="0" font-size="5.8" fill="#231f20" text-anchor="end" >Day −40</text>
<line x1="399.50" y1="299.20" x2="399.50" y2="301.20" stroke="#eba54a" stroke-width="0.8" />
<text transform="translate(402.50,307.20) rotate(-45)" x="0" y="0" font-size="5.8" fill="#231f20" text-anchor="end" >Day 0</text>
<line x1="414.25" y1="299.20" x2="414.25" y2="301.20" stroke="#231f20" stroke-width="0.8" />
<text transform="translate(417.25,307.20) rotate(-45)" x="0" y="0" font-size="5.8" fill="#231f20" text-anchor="end" >Day +23</text>
<line x1="429.25" y1="299.20" x2="429.25" y2="301.20" stroke="#231f20" stroke-width="0.8" />
<text transform="translate(432.25,307.20) rotate(-45)" x="0" y="0" font-size="5.8" fill="#231f20" text-anchor="end" >Day +30</text>
<line x1="443.90" y1="299.20" x2="443.90" y2="301.20" stroke="#231f20" stroke-width="0.8" />
<text transform="translate(446.90,307.20) rotate(-45)" x="0" y="0" font-size="5.8" fill="#231f20" text-anchor="end" >Day +44</text>
<line x1="458.80" y1="299.20" x2="458.80" y2="301.20" stroke="#231f20" stroke-width="0.8" />
<text transform="translate(461.80,307.20) rotate(-45)" x="0" y="0" font-size="5.8" fill="#231f20" text-anchor="end" >Day +65</text>
<line x1="473.75" y1="299.20" x2="473.75" y2="301.20" stroke="#231f20" stroke-width="0.8" />
<text transform="translate(476.75,307.20) rotate(-45)" x="0" y="0" font-size="5.8" fill="#231f20" text-anchor="end" >Day +93</text>
<text x="421.50" y="335.10" font-size="8.2" fill="#231f20" text-anchor="middle" font-weight="bold" textLength="40.4" lengthAdjust="spacingAndGlyphs" >Time from Car-T</text>
<rect x="0.5" y="0.5" width="519" height="361" fill="none" stroke="#5e5e5e" stroke-width="1"/>
</svg>
</body></html>
